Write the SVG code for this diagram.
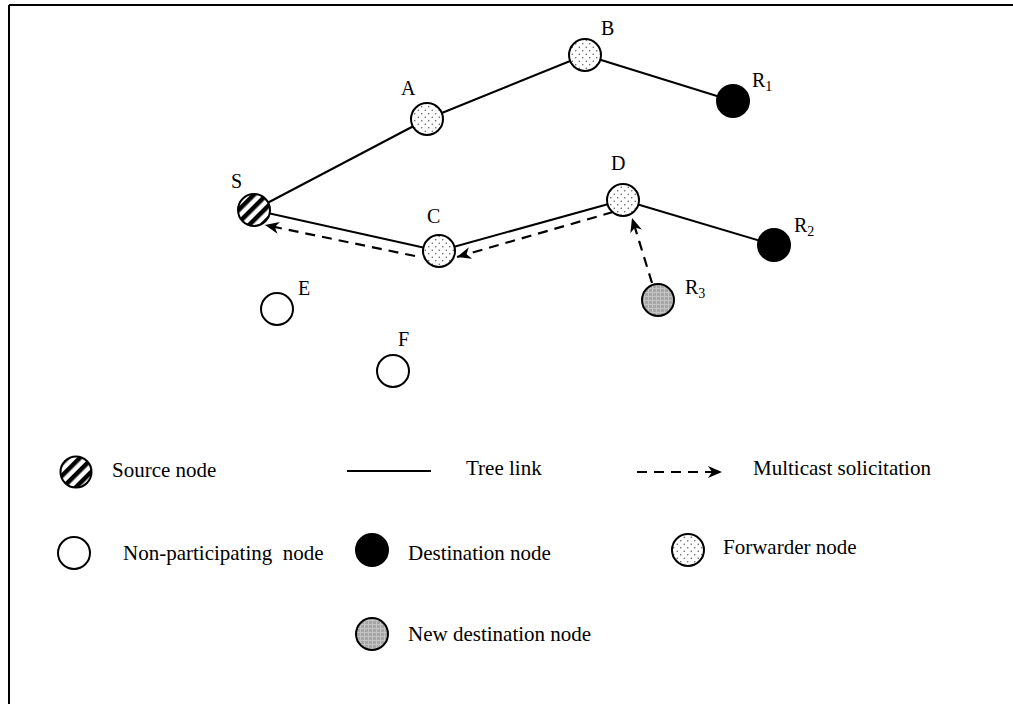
<svg xmlns="http://www.w3.org/2000/svg" width="1013" height="704" viewBox="0 0 1013 704">
<style>
  text { font-family: "Liberation Serif", "Times New Roman", serif; fill: #000; }
  .lbl { font-size: 20px; }
  .sub { font-size: 14px; }
  .leg { font-size: 21px; }
  .tree { stroke: #000; stroke-width: 2; fill: none; }
  .sol { stroke: #000; stroke-width: 2.2; fill: none; stroke-dasharray: 10 7; }
  .node { stroke: #000; stroke-width: 2; }
</style>
<defs>
  <pattern id="stripes" patternUnits="userSpaceOnUse" width="9" height="9" patternTransform="rotate(45)">
    <rect width="9" height="9" fill="#fff"/>
    <rect width="4.5" height="9" fill="#000"/>
  </pattern>
  <pattern id="dots" patternUnits="userSpaceOnUse" width="7" height="7">
    <rect width="7" height="7" fill="#fff"/>
    <circle cx="1.75" cy="1.75" r="0.75" fill="#555"/>
    <circle cx="5.25" cy="5.25" r="0.75" fill="#555"/>
  </pattern>
  <pattern id="grid" patternUnits="userSpaceOnUse" width="4" height="4">
    <rect width="4" height="4" fill="#a6a6a6"/>
    <path d="M0,0.5 H4 M0.5,0 V4" stroke="#c4c4c4" stroke-width="1"/>
  </pattern>
  <marker id="arr" markerWidth="16" markerHeight="14" refX="14" refY="7" orient="auto" markerUnits="userSpaceOnUse">
    <path d="M0,1 L14,7 L0,13 L4,7 Z" fill="#000"/>
  </marker>
</defs>

<g id="border">
  <path d="M9,5 H1013 M9,5 V704" stroke="#000" stroke-width="2" fill="none"/>
</g>

<g id="connectors">
  <line class="tree" x1="254" y1="210" x2="427" y2="119"/>
  <line class="tree" x1="427" y1="119" x2="585" y2="55"/>
  <line class="tree" x1="585" y1="55" x2="733" y2="101"/>
  <line class="tree" x1="254" y1="210" x2="439" y2="251"/>
  <line class="tree" x1="439" y1="251" x2="623" y2="200"/>
  <line class="tree" x1="623" y1="200" x2="774" y2="245"/>
  <line class="sol" x1="415" y1="256" x2="265" y2="225" marker-end="url(#arr)"/>
  <line class="sol" x1="613" y1="212" x2="457" y2="257" marker-end="url(#arr)"/>
  <line class="sol" x1="652" y1="283" x2="632" y2="218" marker-end="url(#arr)"/>
</g>

<g id="node-S">
  <circle class="node" cx="254" cy="210" r="16" fill="url(#stripes)"/>
  <text class="lbl" x="231" y="188">S</text>
</g>
<g id="node-A">
  <circle class="node" cx="427" cy="119" r="16" fill="url(#dots)"/>
  <text class="lbl" x="401" y="95">A</text>
</g>
<g id="node-B">
  <circle class="node" cx="585" cy="55" r="16" fill="url(#dots)"/>
  <text class="lbl" x="601" y="35">B</text>
</g>
<g id="node-R1">
  <circle class="node" cx="733" cy="101" r="16" fill="#000"/>
  <text class="lbl" x="752" y="87">R<tspan class="sub" dy="4">1</tspan></text>
</g>
<g id="node-C">
  <circle class="node" cx="439" cy="251" r="16" fill="url(#dots)"/>
  <text class="lbl" x="427" y="223">C</text>
</g>
<g id="node-D">
  <circle class="node" cx="623" cy="200" r="16" fill="url(#dots)"/>
  <text class="lbl" x="611" y="170">D</text>
</g>
<g id="node-R2">
  <circle class="node" cx="774" cy="245" r="16" fill="#000"/>
  <text class="lbl" x="794" y="232">R<tspan class="sub" dy="4">2</tspan></text>
</g>
<g id="node-R3">
  <circle class="node" cx="658" cy="300" r="16" fill="url(#grid)"/>
  <text class="lbl" x="685" y="294">R<tspan class="sub" dy="4">3</tspan></text>
</g>
<g id="node-E">
  <circle class="node" cx="277" cy="309" r="16" fill="#fff"/>
  <text class="lbl" x="298" y="295">E</text>
</g>
<g id="node-F">
  <circle class="node" cx="393" cy="371" r="16" fill="#fff"/>
  <text class="lbl" x="398" y="346">F</text>
</g>

<g id="legend">
  <circle class="node" cx="76" cy="472" r="15.5" fill="url(#stripes)"/>
  <text class="leg" x="112" y="477">Source node</text>
  <line class="tree" x1="347" y1="471" x2="431" y2="471"/>
  <text class="leg" x="466" y="475">Tree link</text>
  <line class="sol" x1="637" y1="472" x2="722" y2="472" marker-end="url(#arr)"/>
  <text class="leg" x="753" y="475">Multicast solicitation</text>

  <circle class="node" cx="74" cy="553" r="16" fill="#fff"/>
  <text class="leg" x="123" y="560" xml:space="preserve">Non-participating  node</text>
  <circle class="node" cx="372" cy="550" r="16" fill="#000"/>
  <text class="leg" x="408" y="560">Destination node</text>
  <circle class="node" cx="688" cy="550" r="16" fill="url(#dots)"/>
  <text class="leg" x="723" y="554">Forwarder node</text>

  <circle class="node" cx="372" cy="634" r="16" fill="url(#grid)"/>
  <text class="leg" x="408" y="641">New destination node</text>
</g>
</svg>
